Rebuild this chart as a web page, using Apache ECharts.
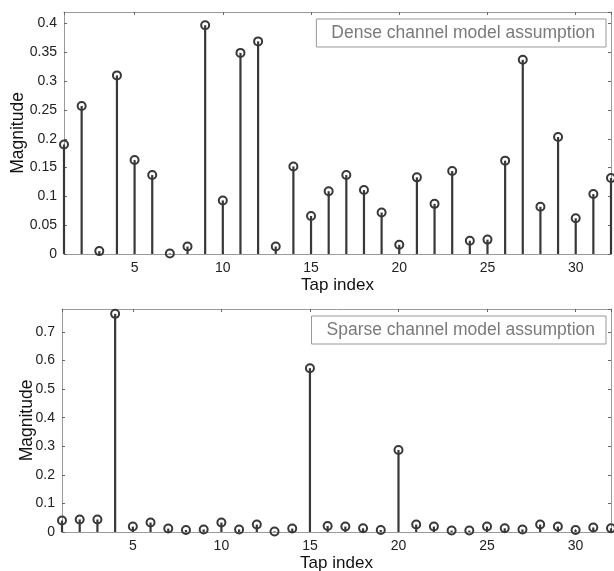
<!DOCTYPE html>
<html lang="en">

<head>
    <meta charset="UTF-8">
    <title>Tap magnitudes</title>
    <script type="text/javascript" src="https://cdn.jsdelivr.net/npm/echarts@6/dist/echarts.min.js"></script>
    <style>
        html,
        body {
            margin: 0;
            padding: 0;
            width: 100%;
            height: 100%;
            background: #fff;
        }

        #container {
            width: 614px;
            height: 571px;
        }
    </style>
</head>

<body>
    <div id="container"></div>
    <script>
        // tap magnitudes, taps 1..32
        let taps = [];
        for (let i = 1; i <= 32; i++) taps.push(i);
        let denseMag = [0.190, 0.257, 0.005, 0.310, 0.163, 0.137, 0.001, 0.013, 0.397, 0.093,
            0.349, 0.369, 0.013, 0.152, 0.066, 0.109, 0.137, 0.111, 0.072, 0.016,
            0.133, 0.087, 0.144, 0.023, 0.025, 0.162, 0.337, 0.082, 0.203, 0.062,
            0.104, 0.132];
        let sparseMag = [0.040, 0.044, 0.044, 0.763, 0.019, 0.033, 0.012, 0.007, 0.009, 0.033,
            0.009, 0.026, 0.002, 0.012, 0.573, 0.021, 0.019, 0.013, 0.007, 0.287,
            0.026, 0.019, 0.005, 0.005, 0.019, 0.013, 0.009, 0.026, 0.019, 0.007,
            0.016, 0.013];
        let denseName = 'Dense channel model assumption';
        let sparseName = 'Sparse channel model assumption';

        let font = 'Liberation Sans, Arial, sans-serif';
        let boxColor = '#9a9a9a';
        let stemColor = '#383838';

        function pairs(values) {
            return values.map((v, i) => [taps[i], v]);
        }

        function xAxes(gridIndex) {
            let base = {
                type: 'value',
                gridIndex: gridIndex,
                min: 1,
                max: 32,
                splitLine: { show: false },
                axisLine: { onZero: false, lineStyle: { color: boxColor, width: 1 } },
                axisTick: { inside: true, length: 3, lineStyle: { color: '#666' } },
            };
            return [
                Object.assign({}, base, {
                    position: 'bottom',
                    name: 'Tap index',
                    nameLocation: 'middle',
                    nameGap: 23,
                    nameMoveOverlap: false,
                    nameTextStyle: { fontFamily: font, fontSize: 17, color: '#111' },
                    axisLabel: {
                        fontFamily: font, fontSize: 14, color: '#222', margin: 7,
                        formatter: v => (v % 5 === 0 ? String(v) : ''),
                    },
                }),
                Object.assign({}, base, {
                    position: 'top',
                    axisLabel: { show: false },
                }),
            ];
        }

        function yAxes(gridIndex, max, interval, nameGap) {
            let base = {
                type: 'value',
                gridIndex: gridIndex,
                min: 0,
                max: max,
                interval: interval,
                splitLine: { show: false },
                axisLine: { show: true, lineStyle: { color: boxColor, width: 1 } },
                axisTick: { show: true, inside: true, length: 3, lineStyle: { color: '#666' } },
            };
            return [
                Object.assign({}, base, {
                    position: 'left',
                    name: 'Magnitude',
                    nameLocation: 'middle',
                    nameGap: nameGap,
                    nameMoveOverlap: false,
                    nameRotate: 90,
                    nameTextStyle: { fontFamily: font, fontSize: 17.5, color: '#111' },
                    axisLabel: {
                        fontFamily: font, fontSize: 14, color: '#222', margin: 7,
                        showMaxLabel: false,
                    },
                }),
                Object.assign({}, base, {
                    position: 'right',
                    axisLabel: { show: false },
                }),
            ];
        }

        function stems(name, values, xi, yi) {
            return {
                name: name + ' stems',
                type: 'custom',
                xAxisIndex: xi,
                yAxisIndex: yi,
                silent: true,
                renderItem: (params, api) => {
                    let x = api.value(0);
                    let p0 = api.coord([x, 0]);
                    let p1 = api.coord([x, api.value(1)]);
                    return {
                        type: 'line',
                        shape: { x1: p0[0], y1: p0[1], x2: p1[0], y2: p1[1] },
                        style: { stroke: stemColor, lineWidth: 2.2 },
                    };
                },
                data: pairs(values),
            };
        }

        function heads(name, values, xi, yi) {
            return {
                name: name,
                type: 'scatter',
                xAxisIndex: xi,
                yAxisIndex: yi,
                symbol: 'circle',
                symbolSize: 8,
                clip: false,
                itemStyle: { color: 'rgba(0,0,0,0)', borderColor: stemColor, borderWidth: 2, opacity: 1 },
                data: pairs(values),
            };
        }

        function legendBox(name, top, right) {
            return {
                data: [{ name: name, icon: 'none' }],
                top: top,
                right: right,
                itemWidth: 0,
                itemGap: 0,
                padding: [5, 11, 5, 15],
                borderColor: '#999',
                borderWidth: 1,
                selectedMode: false,
                textStyle: { fontFamily: font, fontSize: 17.5, color: '#7a7a7a', padding: [0, 0, 0, -5] },
            };
        }

        let chart = echarts.init(document.getElementById('container'), null, { renderer: 'canvas' });
        let option = {
            backgroundColor: '#fff',
            animation: false,
            legend: [
                legendBox(denseName, 19, 8),
                legendBox(sparseName, 316, 8),
            ],
            grid: [
                { left: 64, right: 3, top: 12, height: 242, outerBoundsMode: 'none' },
                { left: 62, right: 3, top: 309, height: 223, outerBoundsMode: 'none' },
            ],
            xAxis: xAxes(0).concat(xAxes(1)),
            yAxis: yAxes(0, 0.42, 0.05, 37).concat(yAxes(1, 0.78, 0.1, 26)),
            series: [
                stems(denseName, denseMag, 0, 0),
                heads(denseName, denseMag, 0, 0),
                stems(sparseName, sparseMag, 2, 2),
                heads(sparseName, sparseMag, 2, 2),
            ],
        };
        chart.setOption(option);
    </script>
</body>

</html>
